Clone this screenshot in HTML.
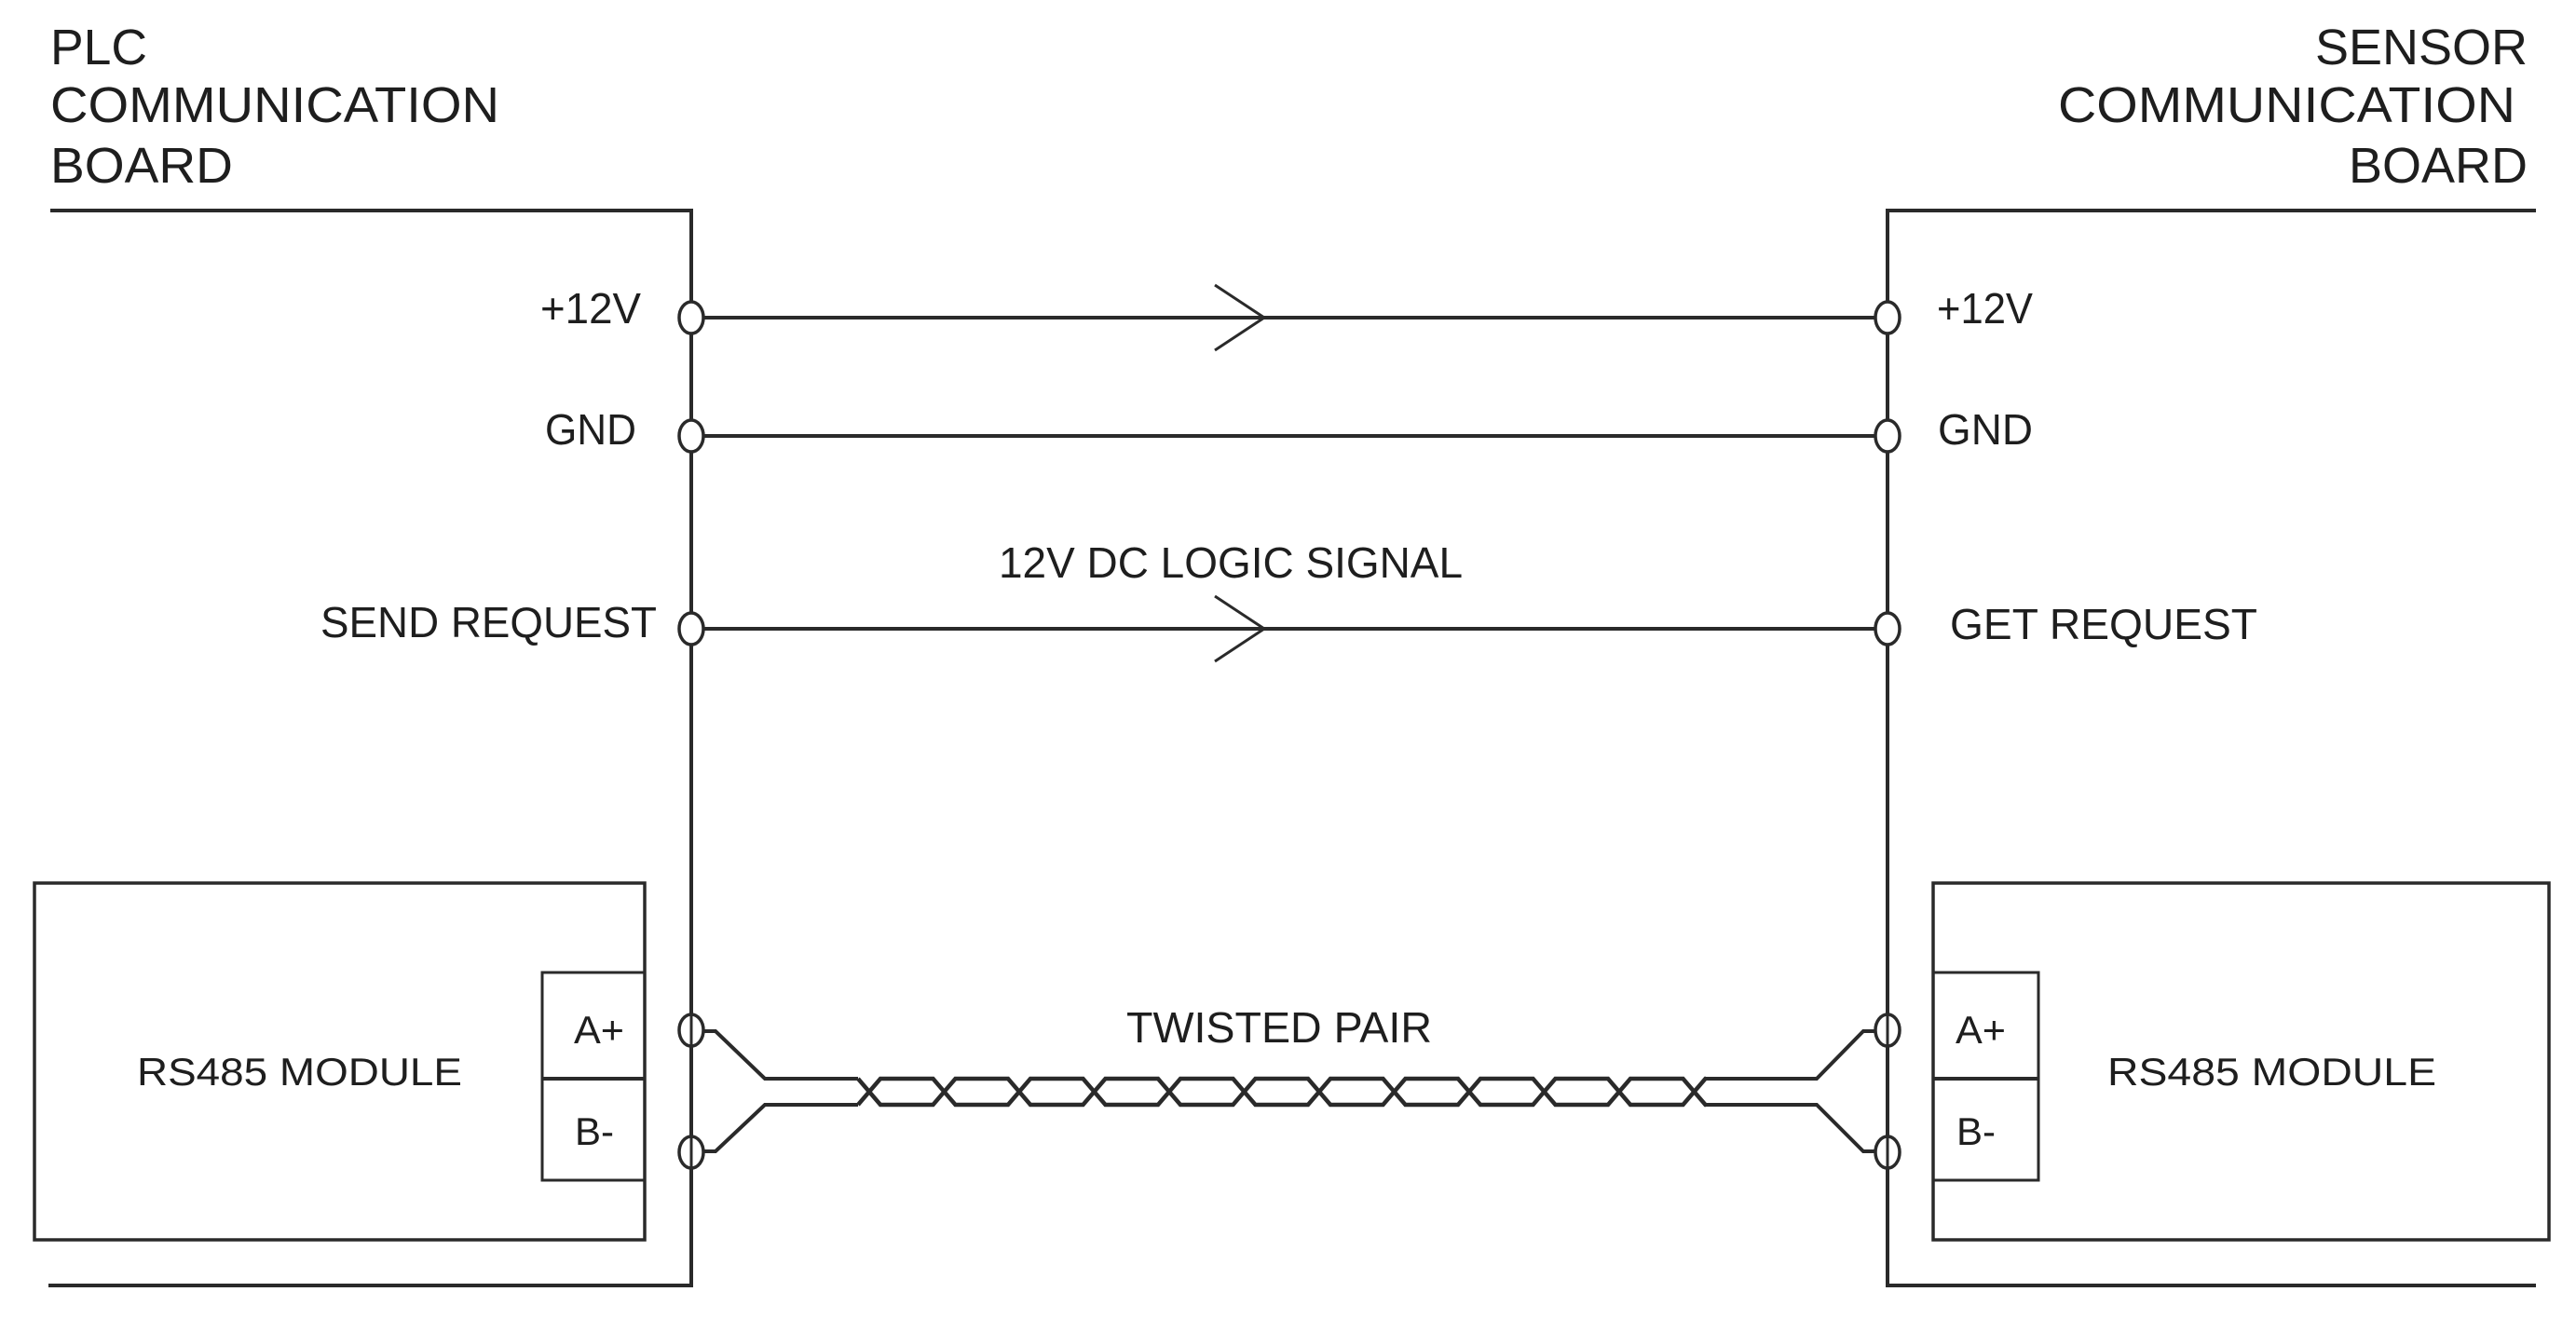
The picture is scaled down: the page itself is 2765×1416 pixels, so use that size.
<!DOCTYPE html>
<html><head><meta charset="utf-8"><style>
html,body{margin:0;padding:0;background:#fff}
svg{display:block}
text{font-family:"Liberation Sans",Arial,sans-serif;fill:#1e1e1e}
</style></head><body>
<svg width="2765" height="1416" viewBox="0 0 2765 1416" xmlns="http://www.w3.org/2000/svg">
<g stroke="#2a2a2a" fill="none" stroke-width="4">
  <polyline points="54,226 742,226 742,1380 52,1380"/>
  <polyline points="2722,226 2026,226 2026,1380 2722,1380"/>
  <line x1="756" y1="341" x2="2012" y2="341"/>
  <line x1="756" y1="468" x2="2012" y2="468"/>
  <line x1="756" y1="675" x2="2012" y2="675"/>
  <polyline points="1304,306 1357,341 1304,376" stroke-width="3"/>
  <polyline points="1304,640 1357,675 1304,710" stroke-width="3"/>
  <rect x="37" y="948" width="655" height="383" stroke-width="3.5"/>
  <rect x="582" y="1044" width="110" height="223" stroke-width="3"/>
  <line x1="582" y1="1158" x2="692" y2="1158"/>
  <rect x="2075" y="948" width="661" height="383" stroke-width="3.5"/>
  <rect x="2075" y="1044" width="113" height="223" stroke-width="3"/>
  <line x1="2075" y1="1158" x2="2188" y2="1158"/>
  <g stroke-width="3.5" fill="#fff">
    <ellipse cx="742" cy="341" rx="13" ry="17"/>
    <ellipse cx="742" cy="468" rx="13" ry="17"/>
    <ellipse cx="742" cy="675" rx="13" ry="17"/>
    <ellipse cx="742" cy="1106" rx="13" ry="17"/>
    <ellipse cx="742" cy="1237" rx="13" ry="17"/>
    <ellipse cx="2026" cy="341" rx="13" ry="17"/>
    <ellipse cx="2026" cy="468" rx="13" ry="17"/>
    <ellipse cx="2026" cy="675" rx="13" ry="17"/>
    <ellipse cx="2026" cy="1106" rx="13" ry="17"/>
    <ellipse cx="2026" cy="1237" rx="13" ry="17"/>
  </g>
  <line x1="742" y1="1089" x2="742" y2="1123" stroke-width="3"/>
  <line x1="742" y1="1220" x2="742" y2="1254" stroke-width="3"/>
  <line x1="2026" y1="1089" x2="2026" y2="1123" stroke-width="3"/>
  <line x1="2026" y1="1220" x2="2026" y2="1254" stroke-width="3"/>
  <polyline points="755,1107 768,1107 821,1158 921,1158"/>
  <polyline points="755,1236 768,1236 821,1186 921,1186"/>
  <polyline points="2013,1107 2000,1107 1950,1158 1831,1158"/>
  <polyline points="2013,1236 2000,1236 1950,1186 1831,1186"/>
</g>
<g stroke="#2a2a2a" fill="none" stroke-width="4.5" id="twist"></g>
<script>
(function(){
  var g=document.getElementById('twist');
  var d1='M921,1158',d2='M921,1186';
  var top=true;
  for(var i=0;i<12;i++){
    var c=933+i*80.5;
    var yA=top?1158:1186, yB=top?1186:1158;
    d1+=' L'+(c-12)+','+yA+' L'+(c+12)+','+yB;
    d2+=' L'+(c-12)+','+yB+' L'+(c+12)+','+yA;
    top=!top;
  }
  d1+=' L1831,'+(top?1158:1186);
  d2+=' L1831,'+(top?1186:1158);
  var ns='http://www.w3.org/2000/svg';
  [d1,d2].forEach(function(d){var p=document.createElementNS(ns,'path');p.setAttribute('d',d);g.appendChild(p);});
})();
</script>
<g font-size="54">
  <text x="54" y="69" textLength="104" lengthAdjust="spacingAndGlyphs">PLC</text>
  <text x="54" y="131" textLength="482" lengthAdjust="spacingAndGlyphs">COMMUNICATION</text>
  <text x="54" y="196" textLength="196" lengthAdjust="spacingAndGlyphs">BOARD</text>
  <text x="2713" y="69" text-anchor="end">SENSOR</text>
  <text x="2209" y="131" textLength="491" lengthAdjust="spacingAndGlyphs">COMMUNICATION</text>
  <text x="2713" y="196" text-anchor="end">BOARD</text>
</g>
<g font-size="46">
  <text x="580" y="347" textLength="108" lengthAdjust="spacingAndGlyphs">+12V</text>
  <text x="585" y="477" textLength="98" lengthAdjust="spacingAndGlyphs">GND</text>
  <text x="344" y="684" textLength="361" lengthAdjust="spacingAndGlyphs">SEND REQUEST</text>
  <text x="2079" y="347" textLength="103" lengthAdjust="spacingAndGlyphs">+12V</text>
  <text x="2080" y="477" textLength="102" lengthAdjust="spacingAndGlyphs">GND</text>
  <text x="2093" y="686" textLength="330" lengthAdjust="spacingAndGlyphs">GET REQUEST</text>
  <text x="1072" y="620" textLength="498" lengthAdjust="spacingAndGlyphs">12V DC LOGIC SIGNAL</text>
  <text x="1209" y="1119" textLength="328" lengthAdjust="spacingAndGlyphs">TWISTED PAIR</text>
</g>
<g font-size="42">
  <text x="147" y="1165" textLength="349" lengthAdjust="spacingAndGlyphs">RS485 MODULE</text>
  <text x="2262" y="1165" textLength="353" lengthAdjust="spacingAndGlyphs">RS485 MODULE</text>
  <text x="616" y="1120" textLength="54" lengthAdjust="spacingAndGlyphs">A+</text>
  <text x="617" y="1229" textLength="42" lengthAdjust="spacingAndGlyphs">B-</text>
  <text x="2099" y="1120" textLength="54" lengthAdjust="spacingAndGlyphs">A+</text>
  <text x="2100" y="1229" textLength="42" lengthAdjust="spacingAndGlyphs">B-</text>
</g>
</svg>
</body></html>
